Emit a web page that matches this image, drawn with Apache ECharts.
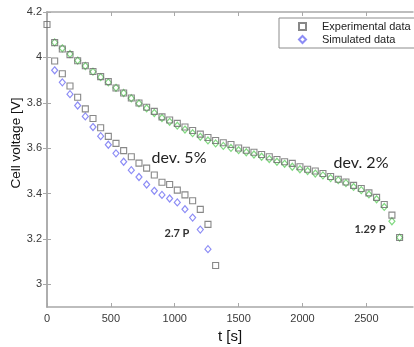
<!DOCTYPE html>
<html>
<head>
<meta charset="utf-8">
<script src="https://cdn.jsdelivr.net/npm/echarts@6/dist/echarts.min.js"></script>
<style>html,body{margin:0;padding:0;background:#fff}#c{width:414px;height:347px}</style>
</head>
<body>
<div id="c"></div>
<script>
// Time stamps [s]
var tLow = [0,60,120,180,240,300,360,420,480,540,600,660,720,780,840,900,960,1020,1080,1140,1200,1260,1320];
var tSimLow = [60,120,180,240,300,360,420,480,540,600,660,720,780,840,900,960,1020,1080,1140,1200,1260];
var tHigh = [60,120,180,240,300,360,420,480,540,600,660,720,780,840,900,960,1020,1080,1140,1200,1260,1320,1380,1440,1500,1560,1620,1680,1740,1800,1860,1920,1980,2040,2100,2160,2220,2280,2340,2400,2460,2520,2580,2640,2700,2760];
// Cell voltage [V]
var vExpLow = [4.145,3.984,3.928,3.874,3.824,3.773,3.731,3.690,3.652,3.621,3.589,3.562,3.534,3.512,3.482,3.450,3.440,3.415,3.394,3.368,3.330,3.264,3.083];
var vSimLow = [3.943,3.890,3.838,3.788,3.740,3.693,3.653,3.615,3.577,3.540,3.503,3.473,3.440,3.412,3.394,3.378,3.361,3.331,3.294,3.241,3.155];
var vExpHigh = [4.065,4.037,4.012,3.985,3.963,3.938,3.915,3.893,3.865,3.843,3.821,3.799,3.780,3.762,3.738,3.724,3.709,3.693,3.678,3.662,3.647,3.634,3.624,3.616,3.601,3.591,3.582,3.572,3.562,3.550,3.540,3.533,3.518,3.507,3.499,3.488,3.475,3.463,3.451,3.436,3.422,3.403,3.383,3.352,3.305,3.206];
var vSimHigh = [4.066,4.040,4.015,3.986,3.962,3.937,3.913,3.890,3.866,3.843,3.820,3.797,3.776,3.755,3.733,3.716,3.699,3.682,3.666,3.650,3.634,3.621,3.610,3.601,3.591,3.582,3.572,3.562,3.552,3.540,3.531,3.518,3.507,3.499,3.488,3.480,3.468,3.459,3.446,3.429,3.415,3.396,3.375,3.341,3.278,3.206];
// Ticks
var xTicks = [0,500,1000,1500,2000,2500];
var yTicks = [3,3.2,3.4,3.6,3.8,4,4.2];
var legendNames = ['Experimental data','Simulated data'];

function pairs(t, v){ return t.map(function(x,i){ return [x, v[i]]; }); }

var axisLineStyle = {color:'#a8a8a8', width:1.5};
var tickStyle = {color:'#a8a8a8', width:1};
var labelStyle = {color:'#3a3a3a', fontSize:11, fontFamily:'Liberation Sans, Arial, sans-serif'};

var chart = echarts.init(document.getElementById('c'), null, {renderer:'canvas'});
chart.setOption({
  animation:false,
  backgroundColor:'#fff',
  grid:{left:47, right:1, top:12, bottom:40, containLabel:false, outerBoundsMode:'none'},
  legend:{
    data:legendNames, orient:'vertical', left:279, top:18,
    padding:[3,6,3,19], itemGap:2, itemWidth:7, itemHeight:7,
    borderColor:'#8c8c8c', borderWidth:1, backgroundColor:'#fff',
    selectedMode:false,
    textStyle:{color:'#222', fontSize:11, fontFamily:'Liberation Sans, Arial, sans-serif', padding:[0,0,0,11]}
  },
  xAxis:[{
    type:'value', min:0, max:2865, position:'bottom',
    name:'t [s]', nameLocation:'middle', nameGap:18,
    nameTextStyle:{color:'#111', fontSize:15, fontFamily:'Liberation Sans, Arial, sans-serif'},
    axisLine:{show:true, lineStyle:axisLineStyle},
    axisTick:{show:true, inside:true, length:4, lineStyle:tickStyle, customValues:xTicks},
    axisLabel:Object.assign({margin:6, customValues:xTicks, formatter:function(v){return String(v);}}, labelStyle),
    splitLine:{show:false}
  },{
    type:'value', min:0, max:2865, position:'top',
    axisLine:{show:true, lineStyle:axisLineStyle},
    axisTick:{show:true, inside:true, length:4, lineStyle:tickStyle, customValues:xTicks},
    axisLabel:{show:false}, splitLine:{show:false}
  }],
  yAxis:[{
    type:'value', min:2.9, max:4.2, position:'left',
    axisLine:{show:true, lineStyle:axisLineStyle},
    axisTick:{show:true, inside:true, length:4, lineStyle:tickStyle, customValues:yTicks},
    axisLabel:Object.assign({margin:5, customValues:yTicks, formatter:function(v){return String(Math.round(v*10)/10);}}, labelStyle),
    splitLine:{show:false}
  },{
    type:'value', min:2.9, max:4.2, position:'right',
    axisLine:{show:true, lineStyle:axisLineStyle},
    axisTick:{show:true, inside:true, length:4, lineStyle:tickStyle, customValues:yTicks},
    axisLabel:{show:false}, splitLine:{show:false}
  }],
  series:[
    {name:'Simulated data', type:'scatter', data:pairs(tSimLow, vSimLow), symbol:'diamond', symbolSize:[6,7],
     itemStyle:{color:'rgba(0,0,0,0)', borderColor:'#6f6ff2', borderWidth:1.2}},
    {name:'Simulated data', type:'scatter', data:pairs(tHigh, vSimHigh), symbol:'diamond', symbolSize:[6,7],
     itemStyle:{color:'rgba(0,0,0,0)', borderColor:'#62cf62', borderWidth:1.2}},
    {name:'Experimental data', type:'scatter', data:pairs(tLow, vExpLow), symbol:'rect', symbolSize:6,
     itemStyle:{color:'rgba(0,0,0,0)', borderColor:'#6a6a6a', borderWidth:1.1}},
    {name:'Experimental data', type:'scatter', data:pairs(tHigh, vExpHigh), symbol:'rect', symbolSize:6,
     itemStyle:{color:'rgba(0,0,0,0)', borderColor:'#6a6a6a', borderWidth:1.1}}
  ],
  graphic:[
    {type:'text', x:16, y:143, rotation:Math.PI/2, style:{text:'Cell voltage [V]', fill:'#111', font:'13.5px "Liberation Sans", Arial, sans-serif', align:'center', verticalAlign:'middle'}},
    {type:'text', x:179, y:158, style:{text:'dev. 5%', fill:'#222', font:'16px Lato, "Open Sans", sans-serif', align:'center', verticalAlign:'middle'}},
    {type:'text', x:361, y:163, style:{text:'dev. 2%', fill:'#222', font:'16px Lato, "Open Sans", sans-serif', align:'center', verticalAlign:'middle'}},
    {type:'text', x:177, y:233, style:{text:'2.7 P', fill:'#333', font:'bold 11px Lato, "Open Sans", sans-serif', align:'center', verticalAlign:'middle'}},
    {type:'text', x:370, y:229, style:{text:'1.29 P', fill:'#333', font:'bold 11px Lato, "Open Sans", sans-serif', align:'center', verticalAlign:'middle'}}
  ]
});
</script>
</body>
</html>
